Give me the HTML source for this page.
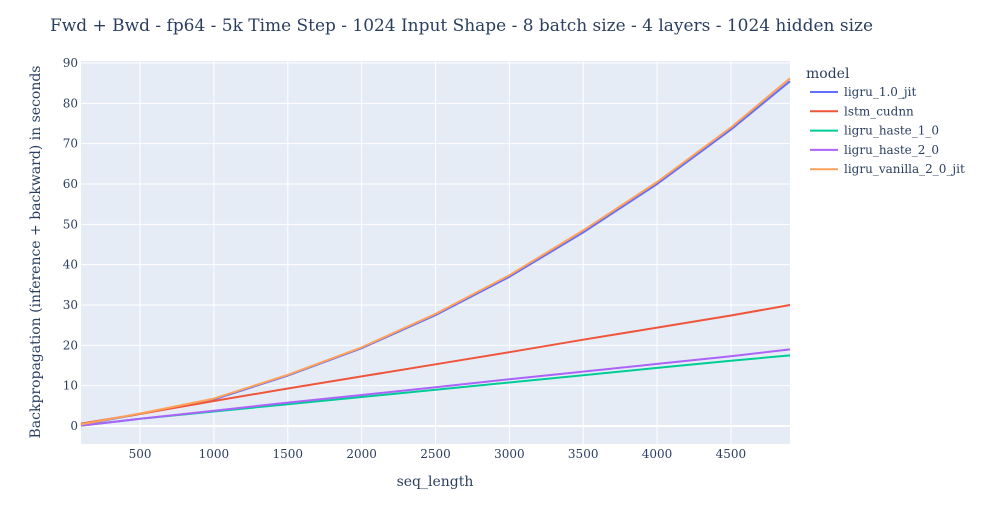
<!DOCTYPE html>
<html><head><meta charset="utf-8"><style>
body{margin:0;background:#fff;}
svg text{font-family:"DejaVu Serif","Liberation Serif",serif;fill:#2a3f5f;}
</style></head><body>
<svg id="chart" width="982" height="525" xmlns="http://www.w3.org/2000/svg">
<text x="50" y="31" font-size="16.8" textLength="823" lengthAdjust="spacingAndGlyphs">Fwd + Bwd - fp64 - 5k Time Step - 1024 Input Shape - 8 batch size - 4 layers - 1024 hidden size</text>
<rect x="81" y="61" width="709" height="383" fill="#e5ecf6"/>
<g id="grid"></g><g id="series"></g><g id="ticks"></g>
<text x="435" y="486" font-size="14" text-anchor="middle">seq_length</text>
<text transform="translate(40,252) rotate(-90)" font-size="14" text-anchor="middle" textLength="373" lengthAdjust="spacingAndGlyphs">Backpropagation (inference + backward) in seconds</text>
<g id="legend">
<text x="806" y="78" font-size="14">model</text>
</g>
</svg>
<script>
const xs=[100,500,1000,1500,2000,2500,3000,3500,4000,4500,4900];
const ligruJit=[0.3,3.0,6.6,12.5,19.3,27.5,37,48,60,73.5,85.5];
const lstmCudnn=[0.6,3.0,6.2,9.3,12.3,15.3,18.3,21.4,24.4,27.4,30];
const ligruHaste1=[0.1,1.8,3.6,5.4,7.2,9.0,10.8,12.6,14.4,16.2,17.5];
const ligruHaste2=[0.1,1.8,3.8,5.8,7.7,9.6,11.6,13.5,15.4,17.3,19];
const ligruVanilla=[0.4,3.1,6.8,12.7,19.5,27.8,37.4,48.5,60.5,74,86.2];
const seriesNames=["ligru_1.0_jit","lstm_cudnn","ligru_haste_1_0","ligru_haste_2_0","ligru_vanilla_2_0_jit"];
const xTicks=[500,1000,1500,2000,2500,3000,3500,4000,4500];
const yTicks=[0,10,20,30,40,50,60,70,80,90];
const colors=["#636efa","#EF553B","#00cc96","#ab63fa","#FFA15A"];
const allSeries=[ligruJit,lstmCudnn,ligruHaste1,ligruHaste2,ligruVanilla];
const NS="http://www.w3.org/2000/svg";
const X=v=>81+(v-100)*709/4800;
const Y=v=>444-(v+4.46)*383/94.96;
function mk(t,a,p){const e=document.createElementNS(NS,t);for(const k in a)e.setAttribute(k,a[k]);document.getElementById(p).appendChild(e);return e;}
xTicks.forEach(t=>{
 const l=mk("line",{x1:X(t),x2:X(t),y1:61,y2:444,stroke:"#fff","stroke-width":1},"grid");
 
 
 const tx=mk("text",{x:X(t),y:458,"font-size":12,"text-anchor":"middle"},"ticks");tx.textContent=t;
 
 
});
yTicks.forEach(t=>{
 const l=mk("line",{x1:81,x2:790,y1:Y(t),y2:Y(t),stroke:"#fff","stroke-width":t===0?2:1},"grid");
 
 
 const tx=mk("text",{x:78,y:Y(t)+4,"font-size":12,"text-anchor":"end"},"ticks");tx.textContent=t;
 
 
});
allSeries.forEach((s,i)=>{
 const d=s.map((v,j)=>(j?"L":"M")+X(xs[j]).toFixed(1)+","+Y(v).toFixed(1)).join("");
 const p=mk("path",{d:d,fill:"none",stroke:colors[i],"stroke-width":2,"stroke-linejoin":"round"},"series");
 
 
 const y=92+i*19.3;
 const ll=mk("line",{x1:810,x2:838,y1:y,y2:y,stroke:colors[i],"stroke-width":2},"legend");
 
 
 const lt=mk("text",{x:844,y:y+4,"font-size":12},"legend");lt.textContent=seriesNames[i];
 
 
});
</script>
</body></html>
